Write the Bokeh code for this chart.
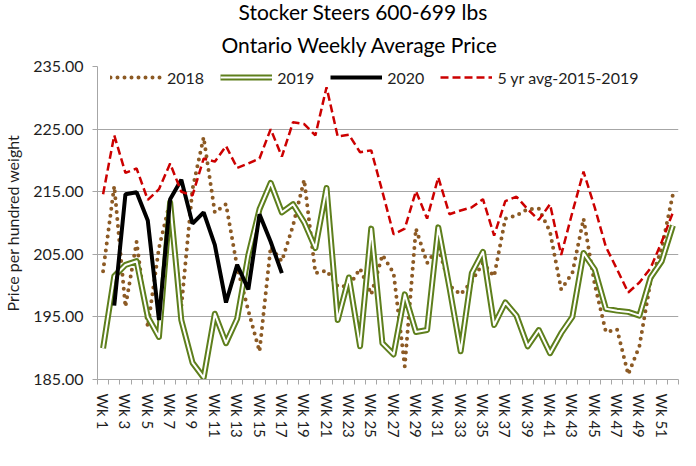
from bokeh.plotting import figure
from bokeh.models import FixedTicker, Legend, LegendItem, Title, Range1d
from bokeh.embed import file_html
from bokeh.resources import INLINE

NaN = float("nan")

weeks = [f"Wk {i}" for i in range(1, 53)]
y2018 = [202.3, 215.9, 196.6, 207.0, 193.4, 206.0, 213.5, 196.6, 215.4, 223.7,
         211.7, 213.0, 203.0, 196.0, 189.5, 206.2, 203.9, 209.6, 216.9, 202.0,
         202.4, 199.9, 199.9, 202.7, 198.6, 204.9, 202.0, 187.1, 209.1, 203.6,
         206.2, 200.0, 198.6, 200.7, 203.6, 201.5, 210.7, 211.2, 212.2, 212.3,
         208.6, 199.4, 202.0, 210.7, 200.2, 192.6, 193.0, 185.8, 190.3, 200.7,
         206.0, 214.6]
y2019 = [190.0, 201.5, 203.3, 203.9, 195.0, 191.8, 213.3, 194.5, 187.7, 185.3,
         195.5, 190.8, 194.7, 204.9, 212.2, 216.4, 211.7, 213.0, 210.1, 206.0,
         215.6, 194.5, 201.3, 190.3, 209.1, 190.8, 189.0, 198.6, 192.6, 192.9,
         209.3, 199.7, 189.5, 202.0, 205.4, 193.7, 197.3, 195.2, 190.3, 192.9,
         189.2, 192.4, 195.0, 205.2, 202.6, 196.3, 196.0, 195.8, 195.2, 201.3,
         203.9, 209.6]
y2020 = [NaN, 196.8, 214.6, 214.9, 210.4, 194.5, 213.8, 216.9, 209.9, 211.7,
         206.5, 197.3, 203.3, 199.4, 211.4, 207.0, 202.0] + [NaN] * 35
avg5 = [214.6, 224.0, 218.0, 218.7, 213.7, 215.4, 219.5, 215.0, 214.4, 220.3,
        219.8, 222.3, 218.8, 219.5, 220.3, 225.0, 220.6, 226.1, 225.8, 224.0,
        231.7, 223.8, 224.1, 221.3, 221.6, 215.0, 208.2, 209.1, 215.1, 210.7,
        217.3, 211.4, 212.0, 212.5, 213.8, 208.0, 213.5, 214.2, 212.2, 210.5,
        213.0, 204.9, 211.7, 218.2, 212.5, 206.2, 202.6, 198.9, 200.5, 202.8,
        207.0, 211.7]
series_names = ["2018", "2019", "2020", "5 yr avg-2015-2019"]
y_ticks = [185, 195, 205, 215, 225, 235]
y_tick_labels = ["185.00", "195.00", "205.00", "215.00", "225.00", "235.00"]
title_lines = ["Stocker Steers 600-699 lbs", "Ontario Weekly Average Price"]
y_axis_title = "Price per hundred weight"

FONT = "Lato"
TXT = "#1e1e1e"
GRID = "#a6a6a6"
BROWN = "#8c5a24"
GREEN = "#5e7f1c"
RED = "#cc0000"

x = list(range(1, len(weeks) + 1))

p = figure(width=680, height=450, output_backend="svg", toolbar_location=None,
           title=None,
           x_range=Range1d(0.5, len(weeks) + 0.5), y_range=Range1d(185, 235),
           min_border_left=95, min_border_right=2, min_border_top=60,
           min_border_bottom=71)
p.outline_line_color = None
p.background_fill_color = "white"
p.border_fill_color = "white"

# x axis
odd = [i for i in x if i % 2 == 1]
p.xaxis.ticker = FixedTicker(ticks=odd, minor_ticks=[i - 0.5 for i in x] + [len(x) + 0.5])
p.xaxis.major_label_overrides = {i: weeks[i - 1] for i in odd}
p.xaxis.major_label_orientation = "vertical"
p.xaxis.major_tick_out = 0
p.xaxis.major_tick_in = 0
p.xaxis.minor_tick_out = 5
p.xaxis.minor_tick_in = 0
p.xaxis.minor_tick_line_color = GRID
p.xaxis.axis_line_color = GRID
p.xaxis.major_label_standoff = 9
p.xaxis.major_label_text_font = FONT
p.xaxis.major_label_text_font_size = "15px"
p.xaxis.major_label_text_color = TXT
p.xgrid.grid_line_color = None

# y axis
p.yaxis.ticker = FixedTicker(ticks=y_ticks, minor_ticks=[])
p.yaxis.major_label_overrides = {t: l for t, l in zip(y_ticks, y_tick_labels)}
p.yaxis.major_tick_out = 5
p.yaxis.major_tick_in = 0
p.yaxis.minor_tick_out = 0
p.yaxis.minor_tick_in = 0
p.yaxis.major_tick_line_color = GRID
p.yaxis.axis_line_color = GRID
p.yaxis.major_label_standoff = 9
p.yaxis.major_label_text_font = FONT
p.yaxis.major_label_text_font_size = "16px"
p.yaxis.major_label_text_color = TXT
p.yaxis.axis_label = y_axis_title
p.yaxis.axis_label_text_font = FONT
p.yaxis.axis_label_text_font_size = "16px"
p.yaxis.axis_label_text_font_style = "normal"
p.yaxis.axis_label_text_color = TXT
p.yaxis.axis_label_standoff = 8
p.ygrid.grid_line_color = GRID
p.ygrid.grid_line_width = 1

r18 = p.line(x, y2018, line_color=BROWN, line_width=4, line_dash="0 7", line_cap="round")
r19a = p.line(x, y2019, line_color=GREEN, line_width=6, line_join="round")
r19b = p.line(x, y2019, line_color="white", line_width=2, line_join="round")
r20 = p.line(x, y2020, line_color="black", line_width=4)
ravg = p.line(x, avg5, line_color=RED, line_width=2.5, line_dash="8 4")

legend = Legend(items=[
    LegendItem(label=series_names[0], renderers=[r18]),
    LegendItem(label=series_names[1], renderers=[r19a, r19b]),
    LegendItem(label=series_names[2], renderers=[r20]),
    LegendItem(label=series_names[3], renderers=[ravg]),
], orientation="horizontal", location=(13, 292))
legend.background_fill_alpha = 0
legend.border_line_alpha = 0
legend.padding = 0
legend.margin = 0
legend.spacing = 16
legend.label_standoff = 5
legend.glyph_width = 52
legend.glyph_height = 20
legend.label_text_font = FONT
legend.label_text_font_size = "16px"
legend.label_text_color = TXT
p.add_layout(legend)

# titles: second line nearest the plot, first line above it
p.add_layout(Title(text=title_lines[1], align="left", offset=124, standoff=19,
                   text_font=FONT, text_font_size="21px", text_font_style="normal",
                   text_color="black"), "above")
p.add_layout(Title(text=title_lines[0], align="left", offset=141, standoff=-7,
                   text_font=FONT, text_font_size="21px", text_font_style="normal",
                   text_color="black"), "above")

open("out.html", "w").write(file_html(p, INLINE))
